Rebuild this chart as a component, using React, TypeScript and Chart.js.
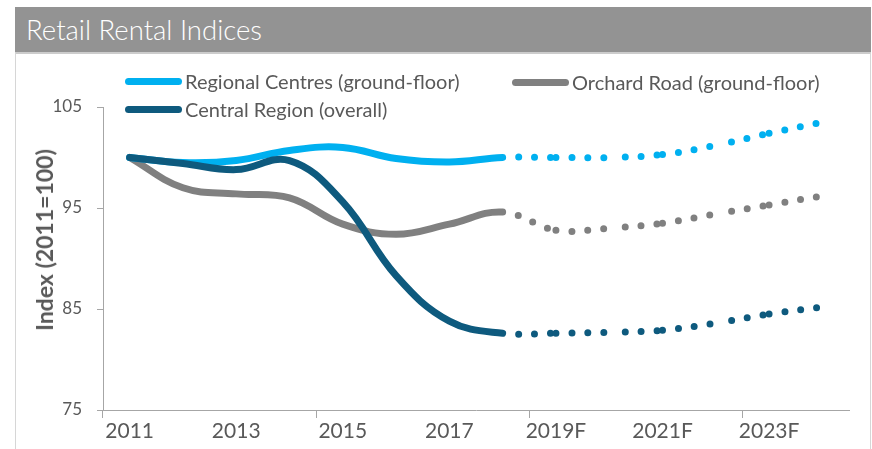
import React, { useEffect, useRef } from 'react';
import { Chart, registerables } from 'chart.js';

Chart.register(...registerables);

// ---- data ----
const categories = ['2011', '2012', '2013', '2014', '2015', '2016', '2017', '2018', '2019F', '2020F', '2021F', '2022F', '2023F', '2024F'];
const tickLabels = ['2011', '', '2013', '', '2015', '', '2017', '', '2019F', '', '2021F', '', '2023F', ''];
const regionalCentres = [100, 99.5, 99.7, 100.7, 101.0, 99.9, 99.55, 100.0, 100.0, 100.0, 100.3, 101.2, 102.4, 103.5];
const orchardRoad = [100, 97.0, 96.4, 96.0, 93.4, 92.4, 93.4, 94.6, 92.8, 93.0, 93.5, 94.4, 95.3, 96.2];
const centralRegion = [100, 99.4, 98.8, 99.7, 95.6, 88.3, 83.8, 82.6, 82.6, 82.7, 82.9, 83.6, 84.5, 85.2];
const forecastFromIndex = 7; // segments after 2018 are dotted
const yTicks = [75, 85, 95, 105];
const yMin = 75;
const yMax = 105;

const seriesNames = ['Regional Centres (ground-floor)', 'Orchard Road (ground-floor)', 'Central Region (overall)'];
const seriesColors = ['#00B0F0', '#808080', '#0E5A7E'];

const TEXT = '#595959';
const AXIS = '#a6a6a6';
const FONT = 'Lato, "Open Sans", sans-serif';

export default function App() {
  const ref = useRef<HTMLCanvasElement>(null);

  useEffect(() => {
    const canvas = ref.current;
    if (!canvas) return;
    const dash = (ctx: any) => (ctx.p0DataIndex >= forecastFromIndex ? [0, 16] : undefined);
    const dashOffset = (ctx: any) =>
      ctx.p0DataIndex >= forecastFromIndex ? (ctx.p0DataIndex % 2 ? 0.01 : 0) : undefined;
    const mk = (label: string, data: number[], color: string) => ({
      label,
      data,
      borderColor: color,
      backgroundColor: color,
      borderWidth: 7,
      borderCapStyle: 'round' as const,
      borderJoinStyle: 'round' as const,
      pointRadius: 0,
      pointHoverRadius: 0,
      tension: 0.4,
      fill: false,
      segment: { borderDash: dash, borderDashOffset: dashOffset },
    });

    const chart = new Chart(canvas, {
      type: 'line',
      data: {
        labels: categories,
        datasets: [
          mk(seriesNames[2], centralRegion, seriesColors[2]),
          mk(seriesNames[0], regionalCentres, seriesColors[0]),
          mk(seriesNames[1], orchardRoad, seriesColors[1]),
        ],
      },
      options: {
        responsive: false,
        animation: false,
        layout: { padding: { left: 0, top: 107, right: 23, bottom: 0 } },
        plugins: { legend: { display: false }, tooltip: { enabled: false } },
        scales: {
          x: {
            type: 'category',
            offset: true,
            afterFit: (s: any) => {
              s.height = 39;
            },
            border: { display: true, color: AXIS, width: 1 },
            grid: {
              offset: true,
              drawOnChartArea: false,
              drawTicks: true,
              tickLength: 8,
              color: (c: any) => (c.type === 'tick' && c.index % 4 === 0 ? AXIS : 'rgba(0,0,0,0)'),
            },
            ticks: {
              autoSkip: false,
              maxRotation: 0,
              padding: 1,
              color: TEXT,
              font: { family: FONT, size: 21 },
              callback: (_v: any, i: number) => tickLabels[i],
            },
          },
          y: {
            type: 'linear',
            min: yMin,
            max: yMax,
            afterFit: (s: any) => {
              s.width = 103;
            },
            afterBuildTicks: (s: any) => {
              s.ticks = yTicks.map((v) => ({ value: v }));
            },
            border: { display: true, color: AXIS, width: 1 },
            grid: { drawOnChartArea: false, drawTicks: true, tickLength: 6, color: AXIS },
            ticks: { padding: 15, color: TEXT, font: { family: FONT, size: 17 } },
          },
        },
      },
    } as any);
    return () => chart.destroy();
  }, []);

  const legendItems = [
    { i: 0, x: 125, y: 81.5 },
    { i: 1, x: 512, y: 82 },
    { i: 2, x: 125, y: 109 },
  ];

  return (
    <div
      style={{
        position: 'absolute',
        left: 0,
        top: 0,
        width: 872,
        height: 449,
        background: '#ffffff',
        overflow: 'hidden',
        fontFamily: FONT,
      }}
    >
      <div
        style={{
          position: 'absolute',
          left: 15,
          top: 52,
          width: 854,
          height: 420,
          borderTop: '2px solid #cccccc',
          borderLeft: '1px solid #d6d6d6',
          borderRight: '1px solid #d6d6d6',
        }}
      />
      <div
        style={{
          position: 'absolute',
          left: 15,
          top: 7,
          width: 856,
          height: 45,
          background: '#939393',
          color: '#ffffff',
          fontSize: 27.5,
          fontWeight: 300,
          lineHeight: '46px',
          paddingLeft: 11,
          boxSizing: 'border-box',
          whiteSpace: 'nowrap',
        }}
      >
        Retail Rental Indices
      </div>
      <canvas
        ref={ref}
        width={872}
        height={449}
        style={{ position: 'absolute', left: 0, top: 0, width: 872, height: 449 }}
      />
      {legendItems.map((it) => (
        <div
          key={it.i}
          style={{
            position: 'absolute',
            left: it.x,
            top: it.y - 11.5,
            height: 23,
            display: 'flex',
            alignItems: 'center',
            whiteSpace: 'nowrap',
          }}
        >
          <div style={{ width: 57, height: 7, borderRadius: 4, background: seriesColors[it.i] }} />
          <span style={{ marginLeft: 3, fontSize: 20, lineHeight: '23px', color: TEXT }}>{seriesNames[it.i]}</span>
        </div>
      ))}
      <div
        style={{
          position: 'absolute',
          left: 44,
          top: 240,
          transform: 'translate(-50%, -50%) rotate(-90deg)',
          whiteSpace: 'nowrap',
          fontSize: 23,
          fontWeight: 700,
          color: TEXT,
          lineHeight: '28px',
        }}
      >
        Index (2011=100)
      </div>
    </div>
  );
}
